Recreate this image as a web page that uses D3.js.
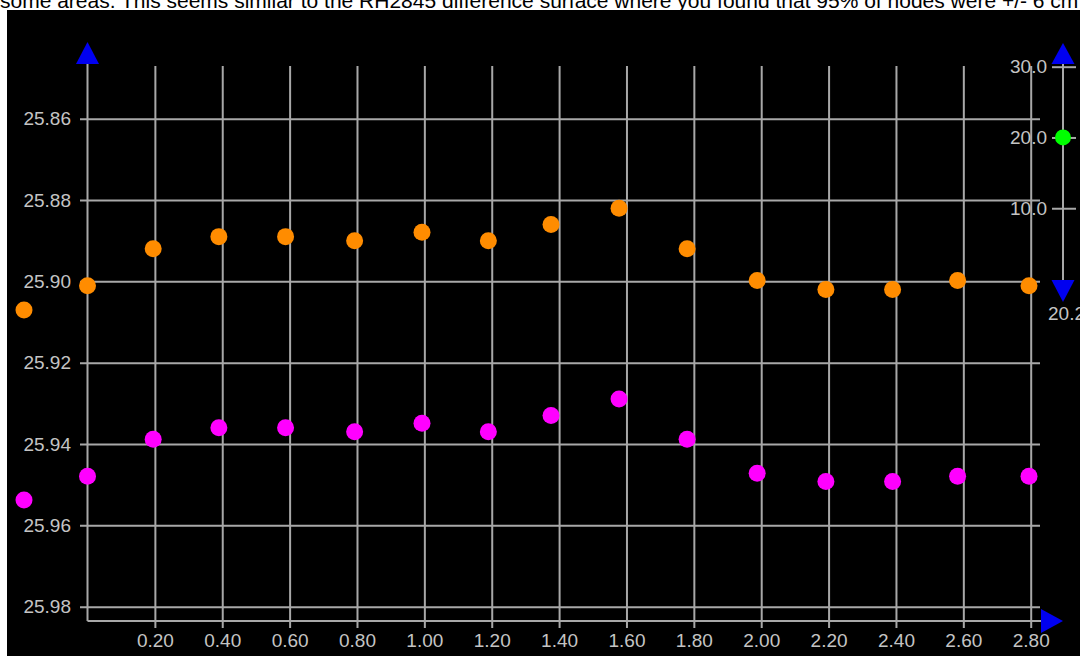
<!DOCTYPE html>
<html>
<head>
<meta charset="utf-8">
<script src="https://cdn.jsdelivr.net/npm/d3@7/dist/d3.min.js"></script>
<style>
  html, body { margin: 0; padding: 0; background: #fff; overflow: hidden; }
  svg { display: block; }
</style>
</head>
<body>
<svg id="chart" width="1080" height="656"></svg>
<script>
// ---- data ----
const headerText = "some areas. This seems similar to the RH2845 difference surface where you found that 95% of nodes were +/- 6 cm";
const xValues = [0.0, 0.195, 0.39, 0.588, 0.793, 0.993, 1.19, 1.376, 1.578, 1.78, 1.988, 2.192, 2.39, 2.583, 2.795];
const orangeValues = [25.9011, 25.8920, 25.8890, 25.8890, 25.8900, 25.8879, 25.8900, 25.8860, 25.8820, 25.8920, 25.8998, 25.9020, 25.9020, 25.8998, 25.9011];
const magentaValues = [25.9479, 25.9388, 25.9360, 25.9360, 25.9370, 25.9349, 25.9370, 25.9330, 25.9289, 25.9388, 25.9472, 25.9492, 25.9492, 25.9479, 25.9479];
const xTickValues = [0.2, 0.4, 0.6, 0.8, 1.0, 1.2, 1.4, 1.6, 1.8, 2.0, 2.2, 2.4, 2.6, 2.8];
const yTickValues = [25.86, 25.88, 25.90, 25.92, 25.94, 25.96, 25.98];
const sliderTickValues = [10, 20, 30];
const sliderValue = 20;
const sliderBottomLabel = "20.2";

// ---- layout ----
const svg = d3.select("#chart");
const FONT = "'Liberation Sans', Arial, sans-serif";
const GRID = "#a8a8a8";
const LABEL = "#c4c4c4";

svg.append("rect").attr("x", 0).attr("y", 0).attr("width", 1080).attr("height", 656).attr("fill", "#fff");
svg.append("text").attr("x", 0).attr("y", 8).attr("font-family", FONT).attr("font-size", 21)
  .attr("fill", "#000").text(headerText);
svg.append("rect").attr("x", 7).attr("y", 10).attr("width", 1073).attr("height", 646).attr("fill", "#000");

const x = d3.scaleLinear().domain([0, 2.8]).range([87.5, 1030.7]);
const y = d3.scaleLinear().domain([25.86, 25.98]).range([118.7, 606.7]);

// y grid + labels
const yAxis = d3.axisLeft(y).tickValues(yTickValues).tickFormat(d3.format(".2f"))
  .tickSizeInner(-960).tickSizeOuter(0).tickPadding(9);
const gy = svg.append("g").attr("transform", "translate(80,0)").call(yAxis);
gy.select(".domain").remove();
gy.selectAll(".tick line").attr("stroke", GRID).attr("stroke-width", 2);
gy.selectAll(".tick text").attr("fill", LABEL).attr("font-family", FONT).attr("font-size", 19);

// x grid + labels
const xAxis = d3.axisBottom(x).tickValues(xTickValues).tickFormat(d3.format(".2f"))
  .tickSizeInner(-562).tickSizeOuter(0).tickPadding(5.5);
const gx = svg.append("g").attr("transform", "translate(0,628)").call(xAxis);
gx.select(".domain").remove();
gx.selectAll(".tick line").attr("stroke", GRID).attr("stroke-width", 2);
gx.selectAll(".tick text").attr("fill", LABEL).attr("font-family", FONT).attr("font-size", 19);

// main axis lines
const axisY = 621, axisX = 87.5;
svg.append("line").attr("x1", axisX).attr("x2", axisX).attr("y1", 64).attr("y2", axisY)
  .attr("stroke", GRID).attr("stroke-width", 2);
svg.append("line").attr("x1", axisX).attr("x2", 1041).attr("y1", axisY).attr("y2", axisY)
  .attr("stroke", GRID).attr("stroke-width", 2);
// arrows
svg.append("path").attr("d", `M${axisX - 11.5},64 L${axisX + 11.5},64 L${axisX},42 Z`).attr("fill", "#0000f0");
svg.append("path").attr("d", `M1041,609 L1041,633 L1063,${axisY} Z`).attr("fill", "#0000f0");

// points
const series = [
  { values: orangeValues, color: "#ff8c00", legendY: 310 },
  { values: magentaValues, color: "#ff00ff", legendY: 500 }
];
series.forEach(s => {
  svg.append("g").selectAll("circle").data(s.values).join("circle")
    .attr("cx", (d, i) => x(xValues[i])).attr("cy", d => y(d)).attr("r", 8.5).attr("fill", s.color);
  svg.append("circle").attr("cx", 24).attr("cy", s.legendY).attr("r", 8.5).attr("fill", s.color);
});

// slider axis on the right
const ys = d3.scaleLinear().domain([0, 30]).range([279, 66.7]);
svg.append("line").attr("x1", 1063).attr("x2", 1063).attr("y1", 63).attr("y2", 281)
  .attr("stroke", GRID).attr("stroke-width", 2);
const sAxis = d3.axisLeft(ys).tickValues(sliderTickValues).tickFormat(d3.format(".1f"))
  .tickSizeInner(-24).tickSizeOuter(0).tickPadding(5);
const gs = svg.append("g").attr("transform", "translate(1052,0)").call(sAxis);
gs.select(".domain").remove();
gs.selectAll(".tick line").attr("stroke", GRID).attr("stroke-width", 2);
gs.selectAll(".tick text").attr("fill", LABEL).attr("font-family", FONT).attr("font-size", 19);
svg.append("path").attr("d", "M1051.5,64 L1074.5,64 L1063,43 Z").attr("fill", "#0000f0");
svg.append("path").attr("d", "M1051.5,280 L1074.5,280 L1063,302 Z").attr("fill", "#0000f0");
svg.append("circle").attr("cx", 1063).attr("cy", ys(sliderValue)).attr("r", 8).attr("fill", "#00ff00");
svg.append("text").attr("x", 1048).attr("y", 320).attr("font-family", FONT).attr("font-size", 19)
  .attr("fill", LABEL).text(sliderBottomLabel);
</script>
</body>
</html>
